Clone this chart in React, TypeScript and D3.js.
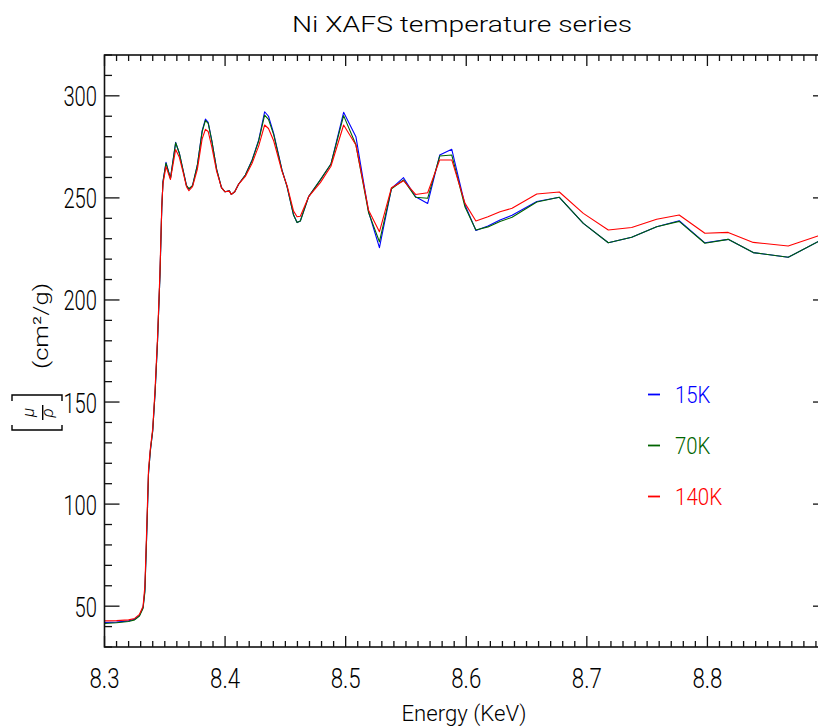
import React from "react";
import * as d3 from "d3";

// Energy grid (KeV)
const energy = [
  8.300, 8.310, 8.320, 8.325, 8.329, 8.332, 8.3335, 8.335, 8.3365, 8.338,
  8.340, 8.342, 8.344, 8.346, 8.3475, 8.3485, 8.351, 8.3547, 8.359, 8.362,
  8.365, 8.368, 8.370, 8.373, 8.377, 8.381, 8.3837, 8.386, 8.389, 8.393,
  8.397, 8.400, 8.4035, 8.4052, 8.408, 8.4113, 8.4168, 8.4224, 8.4279, 8.4328,
  8.436, 8.4403, 8.4472, 8.4514, 8.4568, 8.4597, 8.4624, 8.4693, 8.479, 8.4878,
  8.4983, 8.5085, 8.519, 8.528, 8.538, 8.548, 8.558, 8.568, 8.578, 8.588,
  8.599, 8.608, 8.618, 8.628, 8.638, 8.6585, 8.6772, 8.6971, 8.7178, 8.7372,
  8.7579, 8.7766, 8.7979, 8.8172, 8.838, 8.867, 8.8916, 8.900,
];

const mu15K = [
  42.0, 42.2, 42.8, 43.6, 45.5, 49.5, 58, 85, 115, 126,
  136, 155, 180, 212, 245, 258, 267.4, 259.6, 277.2, 272,
  264, 256, 254.2, 256, 266, 283, 288.6, 287, 278, 264,
  255, 253, 253.5, 251.7, 253, 256.8, 261.2, 268.6, 278.4, 292.2,
  290, 281.6, 263.7, 255.5, 241.6, 237.9, 238.7, 250.6, 258.8, 266.6,
  291.9, 280, 243.2, 225.6, 254.7, 259.9, 250.6, 247.3, 271, 273.8,
  246.5, 234, 236.2, 239.2, 241.5, 248.2, 250.3, 237.5, 228, 230.7,
  235.9, 238.8, 228, 229.7, 223.2, 220.9, 228.5, 230.5,
];

const mu70K = [
  41.5, 41.9, 42.5, 43.3, 45.2, 49.0, 57, 85, 115, 126,
  136, 155, 180, 212, 245, 258, 267, 259.6, 277, 272,
  264, 256, 254.5, 256, 266, 282.5, 287.9, 286.5, 278, 264,
  255, 253, 253.5, 251.7, 253, 256.8, 261.2, 268.3, 278, 290.6,
  288.5, 281, 263.5, 255.5, 241.6, 237.9, 238.7, 250.6, 258.8, 266.6,
  290.3, 276, 242.8, 228.5, 254.5, 258.8, 250.3, 249.8, 270.5, 271,
  245.5, 234.3, 235.8, 238.4, 240.5, 248, 250.3, 237.5, 228, 230.7,
  235.9, 238.5, 227.8, 229.7, 223.2, 220.9, 228.5, 230.5,
];

const mu140K = [
  42.8, 42.9, 43.3, 44.0, 46.0, 50.0, 60, 88, 117, 127,
  137, 157, 182, 214, 246, 257, 265.3, 259, 273.7, 270,
  263, 255.5, 253.5, 255.5, 264, 279, 283.6, 282.5, 275, 263,
  255, 253, 253.3, 251.7, 253, 256.8, 260.5, 267, 275.5, 285.7,
  284, 278, 263, 256, 243.5, 240.8, 241.0, 250.6, 257.5, 265.5,
  285.7, 275.9, 244, 233.4, 255, 258.4, 251.7, 252.5, 268.6, 268.6,
  247.3, 238.7, 240.8, 243.2, 244.9, 251.9, 252.9, 242.4, 234.3, 235.5,
  239.5, 241.6, 232.7, 233.1, 228.2, 226.4, 231.3, 232.5,
];

const seriesNames = ["15K", "70K", "140K"];
const seriesColors = ["#0000ff", "#006400", "#ff0000"];
const seriesValues = [mu15K, mu70K, mu140K];

const xTickLabels = ["8.3", "8.4", "8.5", "8.6", "8.7", "8.8"];
const yTickLabels = ["50", "100", "150", "200", "250", "300"];

const titleText = "Ni XAFS temperature series";
const xAxisTitle = "Energy (KeV)";
const yAxisUnits = "(cm²/g)";

const W = 818;
const H = 727;
const PL = 104.5;
const PR = 828;
const PT = 55;
const PB = 647;

const FONT = "Roboto, 'DejaVu Sans', 'Liberation Sans', sans-serif";

export default function App() {
  const x = d3.scaleLinear().domain([8.3, 8.9]).range([PL, PR]);
  const y = d3.scaleLinear().domain([30, 320]).range([PB, PT]);

  const line = d3
    .line<number>()
    .x((_, i) => x(energy[i]))
    .y((d) => y(d));

  const xMinor = d3.range(0, 61).map((i) => ({ v: 8.3 + i * 0.01, major: i % 10 === 0 }));
  const yMinor = d3.range(3, 33).map((i) => ({ v: i * 10, major: (i * 10) % 50 === 0 }));

  const axisColor = "#111";

  return (
    <svg
      width={W}
      height={H}
      style={{ position: "absolute", left: 0, top: 0, background: "#fff" }}
      fontFamily={FONT}
      fontWeight={300}
    >
      <defs>
        <clipPath id="plotclip">
          <rect x={PL} y={PT} width={PR - PL} height={PB - PT} />
        </clipPath>
      </defs>

      {/* title */}
      <text x={462} y={32} fontSize={22} textAnchor="middle" textLength={340} lengthAdjust="spacingAndGlyphs" fill="#000">
        {titleText}
      </text>

      {/* data lines */}
      <g clipPath="url(#plotclip)" fill="none">
        {seriesValues.map((vals, k) => (
          <path key={k} d={line(vals) || ""} stroke={seriesColors[k]} strokeWidth={1.1} strokeLinejoin="round" />
        ))}
      </g>

      {/* frame */}
      <rect x={PL} y={PT} width={PR - PL} height={PB - PT} fill="none" stroke={axisColor} strokeWidth={1.6} />

      {/* x ticks (bottom & top) */}
      {xMinor.map((t, i) => {
        const len = t.major ? 11 : 6;
        const px = x(t.v);
        return (
          <g key={"xt" + i} stroke={axisColor} strokeWidth={1.3}>
            <line x1={px} x2={px} y1={PB} y2={PB - len} />
            <line x1={px} x2={px} y1={PT} y2={PT + len} />
          </g>
        );
      })}

      {/* y ticks (left & right) */}
      {yMinor.map((t, i) => {
        const len = t.major ? 15 : 7.5;
        const py = y(t.v);
        return (
          <g key={"yt" + i} stroke={axisColor} strokeWidth={1.3}>
            <line x1={PL} x2={PL + len} y1={py} y2={py} />
            <line x1={PR} x2={PR - len} y1={py} y2={py} />
          </g>
        );
      })}

      {/* x tick labels */}
      {xTickLabels.map((s) => (
        <text key={"xl" + s} x={x(+s)} y={688} fontSize={28} textAnchor="middle" textLength={30} lengthAdjust="spacingAndGlyphs" fill="#000">
          {s}
        </text>
      ))}

      {/* y tick labels */}
      {yTickLabels.map((s) => (
        <text key={"yl" + s} x={97} y={y(+s) + 10.5} fontSize={28} textAnchor="end" textLength={s.length * 11.2} lengthAdjust="spacingAndGlyphs" fill="#000">
          {s}
        </text>
      ))}

      {/* x axis title */}
      <text x={464} y={721} fontSize={22} textAnchor="middle" textLength={125} lengthAdjust="spacingAndGlyphs" fill="#000">
        {xAxisTitle}
      </text>

      {/* y axis title: [mu/rho] (cm2/g) */}
      <g transform="translate(37,412) rotate(-90)" fill="#000">
        <g stroke="#000" strokeWidth={1.4} fill="none">
          <path d="M-13,-25 L-18,-25 L-18,25 L-13,25" />
          <path d="M11,-25 L17,-25 L17,25 L11,25" />
          <line x1={-8} x2={7} y1={5.7} y2={5.7} />
        </g>
        <text x={-0.5} y={-3} fontSize={17} fontStyle="italic" textAnchor="middle">μ</text>
        <text x={-1} y={16} fontSize={17} fontStyle="italic" textAnchor="middle">ρ</text>
      </g>
      <g transform="translate(48,326) rotate(-90)">
        <text x={0} y={0} fontSize={21} textAnchor="middle" textLength={86} lengthAdjust="spacingAndGlyphs" fill="#000">
          {yAxisUnits}
        </text>
      </g>

      {/* legend */}
      {seriesNames.map((n, k) => {
        const ly = 394.5 + k * 51;
        return (
          <g key={"lg" + n}>
            <line x1={648} x2={660} y1={ly} y2={ly} stroke={seriesColors[k]} strokeWidth={1.8} />
            <text x={675} y={ly + 8.5} fontSize={23} fill={seriesColors[k]} textLength={n.length * 11.8} lengthAdjust="spacingAndGlyphs">
              {n}
            </text>
          </g>
        );
      })}
    </svg>
  );
}
